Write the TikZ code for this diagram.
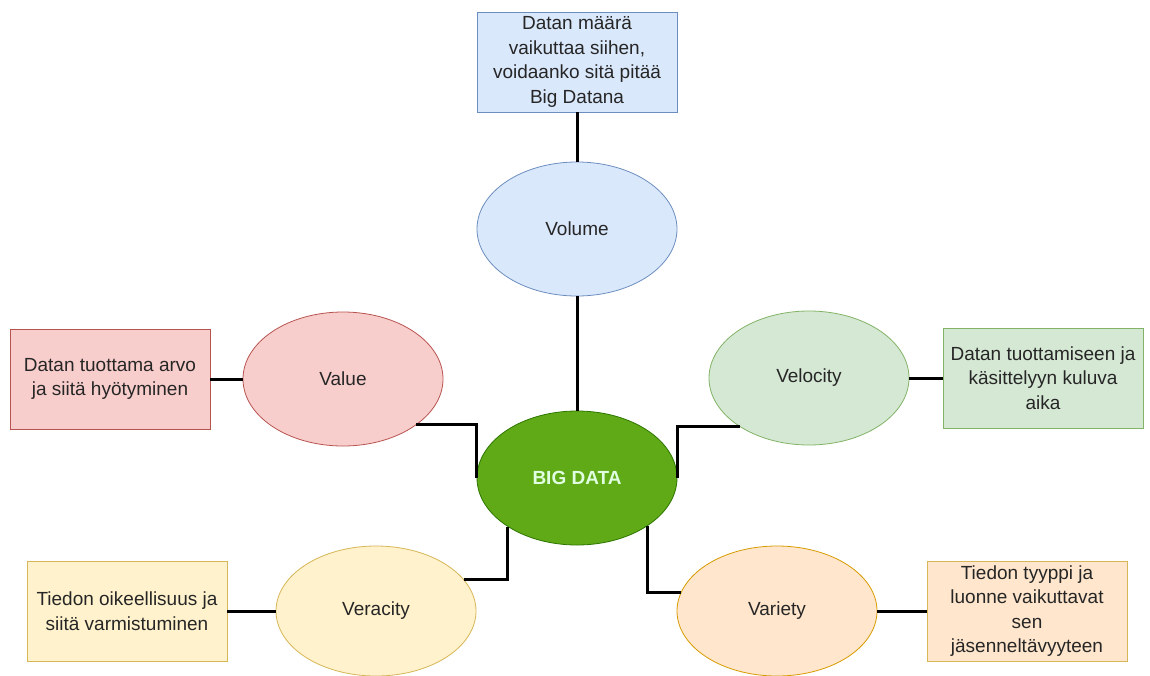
\documentclass[tikz,border=0pt]{standalone}
\usepackage{fontspec}
\setmainfont{Liberation Sans}
\usetikzlibrary{shapes.geometric}
\definecolor{blueF}{HTML}{DAE8FC}
\definecolor{blueD}{HTML}{6C8EBF}
\definecolor{redF}{HTML}{F8CECC}
\definecolor{redD}{HTML}{B85450}
\definecolor{greenF}{HTML}{D5E8D4}
\definecolor{greenD}{HTML}{82B366}
\definecolor{yellowF}{HTML}{FFF2CC}
\definecolor{yellowD}{HTML}{D6B656}
\definecolor{orangeF}{HTML}{FFE6CC}
\definecolor{orangeD}{HTML}{D79B00}
\definecolor{bigF}{HTML}{60A917}
\definecolor{bigD}{HTML}{2D7600}

\begin{document}
\begin{tikzpicture}[x=1pt,y=-1pt,
  every node/.style={font=\fontsize{19}{24.5}\selectfont,text=black!85},
  topic/.style={ellipse,draw,line width=0.8pt,minimum width=200pt,minimum height=134pt,inner sep=0pt},
  note/.style={rectangle,draw,line width=0.8pt,minimum width=200pt,minimum height=100pt,inner sep=2pt,align=center},
  hv/.style={to path={-| (\tikztotarget)}},
  vh/.style={to path={|- (\tikztotarget)}}]
\useasboundingbox (0,0) rectangle (1150,675);
\node[topic,fill=bigF,draw=bigD,text=white!88!green,font=\fontsize{19}{24}\selectfont\bfseries] (big) at (577,478) {BIG DATA};
\node[topic,fill=blueF,draw=blueD] (volume) at (577,229) {Volume};
\node[topic,fill=redF,draw=redD] (value) at (343,379) {Value};
\node[topic,fill=greenF,draw=greenD] (velocity) at (809,378) {Velocity};
\node[topic,fill=yellowF,draw=yellowD,minimum height=130pt] (veracity) at (376,611) {Veracity};
\node[topic,fill=orangeF,draw=orangeD,minimum height=130pt] (variety) at (777,611) {Variety};
\node[note,fill=blueF,draw=blueD] (volnote) at (577,62) {Datan määrä\\vaikuttaa siihen,\\voidaanko sitä pitää\\Big Datana};
\node[note,fill=redF,draw=redD] (valnote) at (110,379) {Datan tuottama arvo\\ja siitä hyötyminen};
\node[note,fill=greenF,draw=greenD] (velnote) at (1043,378) {Datan tuottamiseen ja\\käsittelyyn kuluva\\aika};
\node[note,fill=yellowF,draw=yellowD] (vernote) at (127,611) {Tiedon oikeellisuus ja\\siitä varmistuminen};
\node[note,fill=orangeF,draw=yellowD] (varnote) at (1027,611) {Tiedon tyyppi ja\\luonne vaikuttavat\\sen\\jäsenneltävyyteen};
\path[line width=3pt]
(volnote) edge (volume)
(volume) edge (big)
(valnote) edge (value)
(velocity) edge (velnote)
(vernote) edge (veracity)
(variety) edge (varnote)
(value.-32) edge[hv] (big.west)
(velocity.215) edge[hv] (big.east)
(veracity.20) edge[hv] (big.215)
(big.-34) edge[vh] (variety.169);
\end{tikzpicture}
\end{document}
